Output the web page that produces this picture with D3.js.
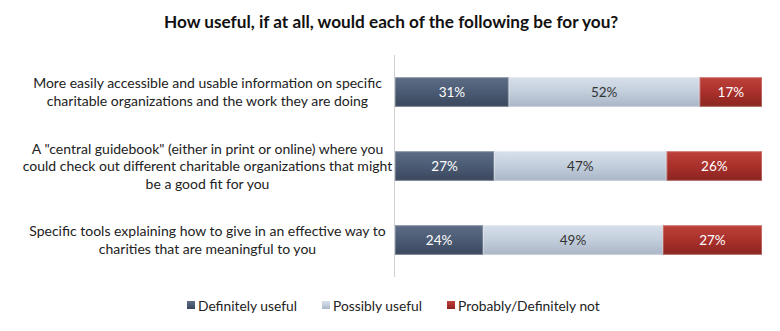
<!DOCTYPE html>
<html><head><meta charset="utf-8">
<script src="https://cdn.jsdelivr.net/npm/d3@7"></script>
<style>body{margin:0;background:#fff;} svg{display:block;}</style>
</head><body>
<svg id="c" width="780" height="331"></svg>
<script>
const title = "How useful, if at all, would each of the following be for you?";
const categories = [
  ["More easily accessible and usable information on specific", "charitable organizations and the work they are doing"],
  ["A \"central guidebook\" (either in print or online) where you", "could check out different charitable organizations that might", "be a good fit for you"],
  ["Specific tools explaining how to give in an effective way to", "charities that are meaningful to you"]
];
const seriesNames = ["Definitely useful", "Possibly useful", "Probably/Definitely not"];
const definitelyUseful = [31, 27, 24];
const possiblyUseful = [52, 47, 49];
const probablyNot = [17, 26, 27];
const colors = ["#4b5b74", "#c3cedc", "#a9302b"];
const textColors = ["#ffffff", "#333333", "#ffffff"];

const svg = d3.select("#c");
const font = "Lato, 'Open Sans', sans-serif";
const defs = svg.append("defs");
const grads = [
  ["#5d6d86", "#4b5b74", "#3a475c"],
  ["#d7dfea", "#c3cedc", "#a9b5c6"],
  ["#bd423a", "#a9302b", "#8a2420"]
];
grads.forEach((g, i) => {
  const lg = defs.append("linearGradient").attr("id", "g" + i).attr("x1", 0).attr("y1", 0).attr("x2", 0).attr("y2", 1);
  lg.append("stop").attr("offset", "0%").attr("stop-color", g[0]);
  lg.append("stop").attr("offset", "50%").attr("stop-color", g[1]);
  lg.append("stop").attr("offset", "100%").attr("stop-color", g[2]);
});

const x = d3.scaleLinear().domain([0, 100]).range([395, 762]);
const y = d3.scaleBand().domain(d3.range(categories.length)).range([55, 277]).paddingInner(0.6).paddingOuter(0.3);

svg.append("text").attr("x", 391).attr("y", 28).attr("text-anchor", "middle")
  .attr("font-family", font).attr("font-weight", "bold").attr("font-size", 17.2).attr("fill", "#111").text(title);

svg.append("line").attr("x1", 394.5).attr("x2", 394.5).attr("y1", 55).attr("y2", 277).attr("stroke", "#d0d0d0");

const data = categories.map((c, i) => [definitelyUseful[i], possiblyUseful[i], probablyNot[i]]);
data.forEach((vals, i) => {
  let acc = 0;
  vals.forEach((v, j) => {
    const x0 = x(acc), x1 = x(acc + v);
    svg.append("rect").attr("x", x0).attr("y", y(i)).attr("width", x1 - x0).attr("height", y.bandwidth())
      .attr("fill", `url(#g${j})`);
    svg.append("rect").attr("x", x0 + 0.5).attr("y", y(i) + 0.5).attr("width", x1 - x0 - 1).attr("height", y.bandwidth() - 1)
      .attr("fill", "none").attr("stroke", "rgba(255,255,255,0.25)");
    svg.append("text").attr("x", (x0 + x1) / 2).attr("y", y(i) + y.bandwidth() / 2 + 5)
      .attr("text-anchor", "middle").attr("font-family", font).attr("font-size", 13.5)
      .attr("fill", textColors[j]).text(v + "%");
    acc += v;
  });
  const lines = categories[i];
  const cy = y(i) + y.bandwidth() / 2;
  const lh = 17.5;
  lines.forEach((l, k) => {
    svg.append("text").attr("x", 207.5).attr("y", cy + (k - (lines.length - 1) / 2) * lh + 5)
      .attr("text-anchor", "middle").attr("font-family", font).attr("font-size", 14)
      .attr("fill", "#222").text(l);
  });
});

const legendX = [187, 322, 447];
seriesNames.forEach((s, j) => {
  svg.append("rect").attr("x", legendX[j]).attr("y", 301).attr("width", 8).attr("height", 8).attr("fill", `url(#g${j})`);
  svg.append("text").attr("x", legendX[j] + 11).attr("y", 310.5).attr("font-family", font).attr("font-size", 13.8)
    .attr("fill", "#222").text(s);
});
</script>
</body></html>
